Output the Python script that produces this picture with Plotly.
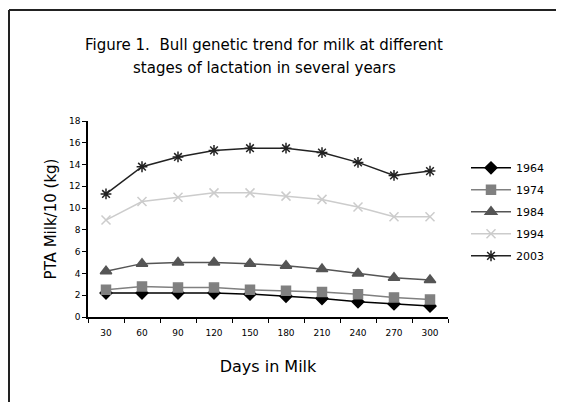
import plotly.graph_objects as go

days = ["30", "60", "90", "120", "150", "180", "210", "240", "270", "300"]
y1964 = [2.2, 2.2, 2.2, 2.2, 2.1, 1.9, 1.7, 1.4, 1.2, 1.0]
y1974 = [2.5, 2.8, 2.7, 2.7, 2.5, 2.4, 2.3, 2.1, 1.8, 1.6]
y1984 = [4.2, 4.9, 5.0, 5.0, 4.9, 4.7, 4.4, 4.0, 3.6, 3.4]
y1994 = [8.9, 10.6, 11.0, 11.4, 11.4, 11.1, 10.8, 10.1, 9.2, 9.2]
y2003 = [11.3, 13.8, 14.7, 15.3, 15.5, 15.5, 15.1, 14.2, 13.0, 13.4]

FONT = "DejaVu Sans, Arial, sans-serif"

series = [
    ("1964", y1964, "#000000", "diamond", 9),
    ("1974", y1974, "#808080", "square", 9),
    ("1984", y1984, "#555555", "triangle-up", 10),
    ("1994", y1994, "#cccccc", "x-thin", 9),
    ("2003", y2003, "#222222", "asterisk", 9),
]

fig = go.Figure()
for name, ys, col, sym, sz in series:
    fig.add_trace(go.Scatter(
        x=days, y=ys, name=name, legendgroup=name, mode="lines+markers",
        line=dict(color=col, width=1.5),
        marker=dict(symbol=sym, size=sz, color=col, line=dict(color=col, width=1.5)),
    ))

fig.update_layout(
    width=556, height=394,
    margin=dict(l=80, r=116, t=113, b=85, autoexpand=False),
    paper_bgcolor="white", plot_bgcolor="white",
    font=dict(family=FONT, color="black", size=10),
    showlegend=True,
    legend=dict(x=1.05, y=0.835, xanchor="left", yanchor="top",
                font=dict(family=FONT, size=11), itemwidth=40,
                tracegroupgap=3, bgcolor="rgba(0,0,0,0)"),
    xaxis=dict(type="category", range=[-0.5, 9.5], showline=True, linecolor="black",
               linewidth=1.5, ticks="outside", tickson="boundaries", ticklen=4,
               tickcolor="black", showgrid=False, tickfont=dict(size=9),
               ticklabelstandoff=6,
               title=dict(text="Days in Milk", font=dict(size=16), standoff=24)),
    yaxis=dict(range=[0, 18], dtick=2, showline=True, linecolor="black", linewidth=1.5,
               ticks="outside", ticklen=4, tickcolor="black", showgrid=False,
               zeroline=False, tickfont=dict(size=9),
               title=dict(text="PTA Milk/10 (kg)", font=dict(size=15), standoff=9)),
    annotations=[
        dict(text="Figure 1.  Bull genetic trend for milk at different",
             xref="paper", yref="paper", x=0.489, y=(309 - 37) / 196,
             xanchor="center", yanchor="middle", showarrow=False,
             font=dict(family=FONT, size=15)),
        dict(text="stages of lactation in several years",
             xref="paper", yref="paper", x=0.489, y=(309 - 60) / 196,
             xanchor="center", yanchor="middle", showarrow=False,
             font=dict(family=FONT, size=15)),
    ],
    shapes=[
        dict(type="line", xref="paper", yref="paper",
             x0=(1 - 80) / 360, x1=(1 - 80) / 360, y0=-1.0, y1=(309 - 2) / 196,
             line=dict(color="#222222", width=2), layer="below"),
        dict(type="line", xref="paper", yref="paper",
             x0=(1 - 80) / 360, x1=2.0, y0=(309 - 2) / 196, y1=(309 - 2) / 196,
             line=dict(color="#222222", width=2), layer="below"),
    ],
)

fig.write_html("out.html")
